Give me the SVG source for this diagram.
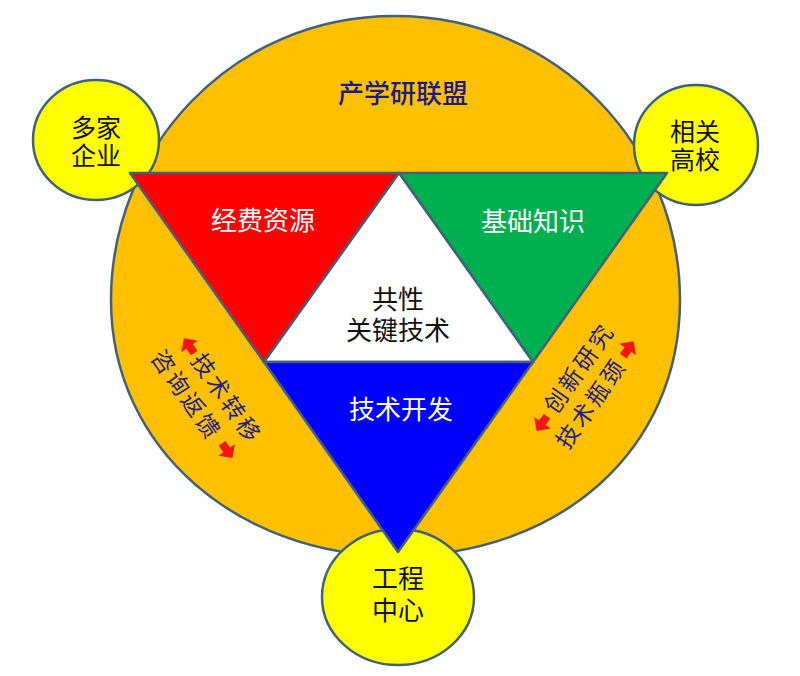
<svg xmlns="http://www.w3.org/2000/svg" width="800" height="676" viewBox="0 0 800 676">
<defs>
<style>
.ln{stroke:#41607c;stroke-width:2.5;stroke-linejoin:round}
.t{font-family:"Noto Sans CJK SC","Noto Sans",sans-serif;font-size:26px;text-anchor:middle}
.c{font-size:25px}
.blk{fill:#111}
.wht{fill:#fff}
.nav{fill:#1a1a8c;font-weight:500}
.bt{font-family:"Noto Sans CJK SC","Noto Sans",sans-serif;font-size:23px;letter-spacing:3px;text-anchor:middle;fill:#22208f}
.ar{fill:#f51414}
</style>
<path id="arR" d="M10,0 L0,-10 L0,-4 L-8,-4 L-8,4 L0,4 L0,10 Z"/>
</defs>
<rect width="800" height="676" fill="#fff"/>
<g id="alliance">
<path class="ln" fill="#ffc000" d="M395,16 C560,16 680,150 680,300 C680,450 560,556 396,556 C240,556 111,450 111,300 C111,150 230,16 395,16 Z"/>
<text class="t nav" x="403" y="103">产学研联盟</text>
</g>
<g id="enterprise">
<ellipse class="ln" fill="#ffff00" cx="96" cy="140" rx="63" ry="60"/>
<text class="t c blk"><tspan x="96" y="137">多家</tspan><tspan x="96" y="165">企业</tspan></text>
</g>
<g id="university">
<ellipse class="ln" fill="#ffff00" cx="696" cy="145" rx="62" ry="60"/>
<text class="t c blk"><tspan x="695" y="141">相关</tspan><tspan x="695" y="169">高校</tspan></text>
</g>
<g id="engineering">
<ellipse class="ln" fill="#ffff00" cx="398" cy="597" rx="76" ry="68"/>
<text class="t blk"><tspan x="398" y="588">工程</tspan><tspan x="398" y="620">中心</tspan></text>
</g>
<g id="funding">
<polygon class="ln" fill="#ff0000" points="130,173 399,173 264,362"/>
<text class="t wht" x="263" y="230">经费资源</text>
</g>
<g id="knowledge">
<polygon class="ln" fill="#00b050" points="399,173 667,173 533,362"/>
<text class="t wht" x="533" y="231">基础知识</text>
</g>
<g id="core">
<polygon class="ln" fill="#ffffff" points="399,173 533,362 264,362"/>
<text class="t blk"><tspan x="398" y="309">共性</tspan><tspan x="398" y="340">关键技术</tspan></text>
</g>
<g id="development">
<polygon class="ln" fill="#0000ff" points="264,362 533,362 398,552"/>
<text class="t wht" x="401" y="419">技术开发</text>
</g>
<g id="transfer" transform="translate(206,396) rotate(55)">
<text class="bt"><tspan x="14" y="-7">技术转移</tspan><tspan x="-12" y="24">咨询返馈</tspan></text>
</g>
<g id="innovation" transform="translate(584,386) rotate(-55)">
<text class="bt"><tspan x="12" y="-6">创新研究</tspan><tspan x="-10" y="24">技术瓶颈</tspan></text>
</g>
<g id="connectors">
<use href="#arR" class="ar" transform="translate(206,396) rotate(55) translate(-50,-15) scale(-1,1)"/>
<use href="#arR" class="ar" transform="translate(206,396) rotate(55) translate(56,14)"/>
<use href="#arR" class="ar" transform="translate(584,386) rotate(-55) translate(-54,-13) scale(-1,1)"/>
<use href="#arR" class="ar" transform="translate(584,386) rotate(-55) translate(55,15)"/>
</g>
</svg>
